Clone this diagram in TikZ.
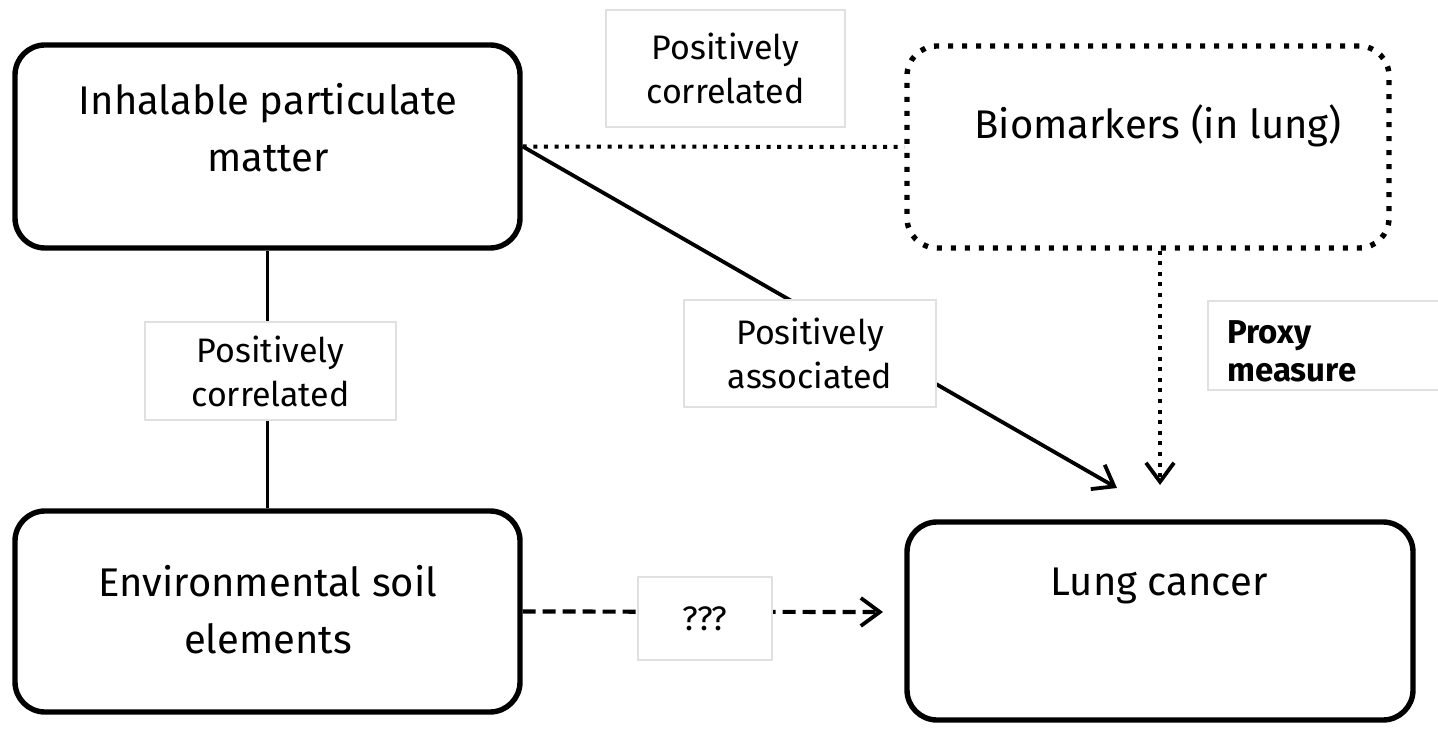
\documentclass[tikz,border=0pt]{standalone}
\usepackage{fontspec}
\setmainfont{Fira Sans}
\usetikzlibrary{arrows.meta}
\begin{document}
\begin{tikzpicture}[x=0.5pt,y=-0.5pt,
  mainbox/.style={draw=black, line width=2.7pt, rounded corners=15pt, inner sep=0pt, fill=white},
  dotbox/.style={mainbox, dash pattern=on 2.5pt off 4.5pt},
  maintext/.style={font=\fontsize{20}{28.5}\selectfont, align=center, inner sep=0pt},
  lbl/.style={draw=black!12, line width=0.7pt, fill=white, font=\fontsize{17}{22}\selectfont, align=center, inner sep=0pt},
  proxytext/.style={font=\bfseries\fontsize{16.5}{19}\selectfont, align=left, inner sep=0pt},
  conn/.style={line width=1.9pt},
  dotconn/.style={line width=2pt, dash pattern=on 2pt off 3.3pt},
  dashconn/.style={line width=2.1pt, dash pattern=on 6.5pt off 3.5pt},
  tip/.style={-{Straight Barb[length=9.5pt,width=14pt,line width=1.9pt]}}
]
\fill[white] (0,0) rectangle (1438,731);
\useasboundingbox (0,0) rectangle (1438,731);

% boxes
\node[mainbox, minimum width=252.5pt, minimum height=101.5pt] (ipm) at (267.5,146.5) {};
\node[mainbox, minimum width=252.5pt, minimum height=100.5pt] (ese) at (267.5,611.5) {};
\node[dotbox, minimum width=241pt, minimum height=101pt] (bio) at (1148,147) {};
\node[mainbox, minimum width=253pt, minimum height=99pt] (lc) at (1160,621) {};

\node[maintext] (ipmt) at (268,128) {Inhalable particulate\\matter};
\node[maintext] (eset) at (268,610) {Environmental soil\\elements};
\node[maintext] (biot) at (1158,126) {Biomarkers (in lung)};
\node[maintext] (lct) at (1159,586) {Lung cancer};

% connector end points
\coordinate (diagtip) at (1117,488);
\coordinate (vtip) at (1160,485);
\coordinate (dtip) at (883,612);

% connectors
\draw[conn] (ipm.south) -- (ese.north);
\draw[dotconn] (ipm.east) -- (bio.west);
\draw[conn, tip] (ipm.east) -- (diagtip);
\draw[dotconn, tip] ([xshift=6pt]bio.south) -- (vtip);
\draw[dashconn, tip] (ese.east) -- (dtip);

% labels
\node[lbl, minimum width=119.5pt, minimum height=58.5pt] (l1) at (725.5,68.5) {Positively\\correlated};
\node[lbl, minimum width=125.5pt, minimum height=49pt] (l2) at (270.5,371) {Positively\\correlated};
\node[lbl, minimum width=126pt, minimum height=53.5pt] (l3) at (810,353.5) {Positively\\associated};
\node[lbl, minimum width=67pt, minimum height=41.5pt] (l4) at (705,618.5) {???};
\node[lbl, minimum width=121pt, minimum height=44.5pt] (l5) at (1329,345.5) {};
\node[proxytext, anchor=west] (proxy) at (1227,351) {Proxy\\measure};
\end{tikzpicture}
\end{document}
